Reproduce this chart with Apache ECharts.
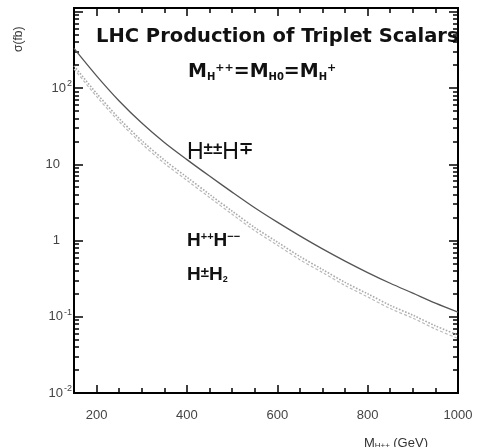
<!DOCTYPE html>
<html>
<head>
<meta charset="utf-8">
<script src="https://cdn.jsdelivr.net/npm/echarts@6/dist/echarts.min.js"></script>
<style>
  html, body { margin: 0; padding: 0; background: #fff; }
  #chart { width: 479px; height: 447px; }
</style>
</head>
<body>
<div id="chart"></div>
<script>
// Higgs triplet masses (GeV)
const masses = [150, 200, 250, 300, 350, 400, 450, 500, 550, 600, 650, 700, 750, 800, 850, 900, 950, 1000];
// cross sections in fb
const sigmaPairPM = [331, 144.5, 67.6, 34.7, 19.3, 11.5, 7.0, 4.31, 2.69, 1.74, 1.15, 0.776, 0.537, 0.380, 0.275, 0.204, 0.151, 0.115];
const sigmaPairPP = [195, 85.1, 39.8, 20.4, 11.35, 6.76, 4.03, 2.43, 1.48, 0.955, 0.617, 0.417, 0.282, 0.200, 0.141, 0.105, 0.076, 0.0575];
const sigmaSingle = [178, 77.5, 36.2, 18.6, 10.3, 6.15, 3.67, 2.21, 1.35, 0.87, 0.56, 0.38, 0.257, 0.182, 0.128, 0.096, 0.069, 0.052];

const xMajor = [200, 400, 600, 800, 1000];
const xMinor = [250, 300, 350, 450, 500, 550, 650, 700, 750, 850, 900, 950];
const yMajor = [0.01, 0.1, 1, 10, 100, 1000];
const yLabels = [0.01, 0.1, 1, 10, 100];
const yMinor = [];
[0.01, 0.1, 1, 10, 100].forEach(function (d) {
    for (let k = 2; k <= 9; k++) yMinor.push(+(d * k).toPrecision(3));
});

document.addEventListener('DOMContentLoaded', function () {
    var myChart = echarts.init(document.getElementById('chart'));

    const lineCol = '#000';
    const font = 'Liberation Sans, Arial, sans-serif';
    const boldFont = '"DejaVu Sans", sans-serif';

    function xAx(pos, ticks, len, labels) {
        return {
            type: 'value', position: pos, min: 150, max: 1000,
            axisLine: { show: true, onZero: false, lineStyle: { color: lineCol, width: 2 } },
            axisTick: { show: true, inside: true, length: len, customValues: ticks, lineStyle: { color: lineCol, width: 1.5 } },
            axisLabel: labels ? {
                show: true, customValues: xMajor, margin: 16, color: '#444', fontSize: 13, fontFamily: font,
                formatter: function (v) { return String(v); }
            } : { show: false },
            splitLine: { show: false }
        };
    }
    function yAx(pos, ticks, len, labels) {
        return {
            type: 'log', logBase: 10, position: pos, min: 0.01, max: 1120,
            axisLine: { show: true, onZero: false, lineStyle: { color: lineCol, width: 2 } },
            axisTick: { show: true, inside: true, length: len, customValues: ticks, lineStyle: { color: lineCol, width: 1.5 } },
            axisLabel: labels ? {
                show: true, customValues: yLabels, margin: 2, color: '#444', fontFamily: font,
                formatter: function (v) {
                    const e = Math.round(Math.log10(v));
                    if (e === 0) return '{p|1}';
                    if (e === 1) return '{p|10}';
                    return '{b|10}{s|' + e + '}';
                },
                rich: {
                    b: { fontSize: 13, color: '#444', fontFamily: font },
                    p: { fontSize: 13, color: '#444', fontFamily: font, padding: [0, 12, 0, 0] },
                    s: { fontSize: 9, color: '#444', fontFamily: font, verticalAlign: 'top', padding: [0, 0, 8, 1] }
                }
            } : { show: false },
            splitLine: { show: false }
        };
    }

    const option = {
        animation: false,
        grid: { left: 74, right: 21, top: 8, bottom: 54 },
        xAxis: [
            xAx('bottom', xMajor, 8, true),
            xAx('bottom', xMinor, 5, false),
            xAx('top', xMajor, 8, false),
            xAx('top', xMinor, 5, false)
        ],
        yAxis: [
            yAx('left', yMajor, 9, true),
            yAx('left', yMinor, 5, false),
            yAx('right', yMajor, 9, false),
            yAx('right', yMinor, 5, false)
        ],
        graphic: [
            {
                type: 'text', left: 96, top: 27,
                style: { text: 'LHC Production of Triplet Scalars', font: 'bold 19.5px ' + boldFont, fill: '#111' }
            },
            {
                type: 'text', left: 188, top: 63,
                style: {
                    text: '{m|M}{t|H}{u|++}{m|=M}{t|H0}{m|=M}{t|H}{u|+}',
                    rich: {
                        m: { font: 'bold 19px ' + boldFont, fill: '#111' },
                        t: { font: 'bold 10px ' + boldFont, fill: '#111', verticalAlign: 'bottom' },
                        u: { font: 'bold 11px ' + boldFont, fill: '#111', verticalAlign: 'top' }
                    }
                }
            },
            {
                type: 'text', left: 187, top: 141,
                style: {
                    text: '{h|H}{u|±±}{h|H}{u|∓}',
                    rich: {
                        h: { font: '23px ' + font, fill: '#111', verticalAlign: 'bottom' },
                        u: { font: 'bold 17px ' + font, fill: '#111', verticalAlign: 'top' }
                    }
                }
            },
            {
                type: 'text', left: 187, top: 231,
                style: {
                    text: '{h|H}{u|++}{h|H}{u|−−}',
                    rich: {
                        h: { font: 'bold 19px ' + font, fill: '#111', verticalAlign: 'bottom' },
                        u: { font: 'bold 11px ' + font, fill: '#111', verticalAlign: 'top' }
                    }
                }
            },
            {
                type: 'text', left: 187, top: 265,
                style: {
                    text: '{h|H}{u|±}{h|H}{d|2}',
                    rich: {
                        h: { font: 'bold 19px ' + font, fill: '#111', verticalAlign: 'middle' },
                        u: { font: 'bold 15px ' + font, fill: '#111', verticalAlign: 'top' },
                        d: { font: 'bold 9px ' + font, fill: '#111', verticalAlign: 'bottom' }
                    }
                }
            },
            {
                type: 'text', x: 13, y: 52, rotation: Math.PI / 2,
                style: { text: 'σ(fb)', font: '12px ' + font, fill: '#333' }
            },
            {
                type: 'text', left: 364, top: 437,
                style: {
                    text: '{m|M}{t|H++} {m|(GeV)}',
                    rich: {
                        m: { font: '13px ' + font, fill: '#333' },
                        t: { font: '8px ' + font, fill: '#333', verticalAlign: 'bottom' }
                    }
                }
            }
        ],
        series: [
            {
                name: 'H±±H∓', type: 'line', xAxisIndex: 0, yAxisIndex: 0,
                data: masses.map((m, i) => [m, sigmaPairPM[i]]),
                smooth: 0.3, symbol: 'none',
                lineStyle: { color: '#555', width: 1.3 }
            },
            {
                name: 'H++H--', type: 'line', xAxisIndex: 0, yAxisIndex: 0,
                data: masses.map((m, i) => [m, sigmaPairPP[i]]),
                smooth: 0.3, symbol: 'none',
                lineStyle: { color: '#aaa', width: 1.6, type: 'dotted' }
            },
            {
                name: 'H±H2', type: 'line', xAxisIndex: 0, yAxisIndex: 0,
                data: masses.map((m, i) => [m, sigmaSingle[i]]),
                smooth: 0.3, symbol: 'none',
                lineStyle: { color: '#bbb', width: 1.2, type: [3, 2] }
            }
        ]
    };

    option && myChart.setOption(option);

    window.addEventListener('resize', function () {
        myChart.resize();
    });
});
</script>
</body>
</html>
